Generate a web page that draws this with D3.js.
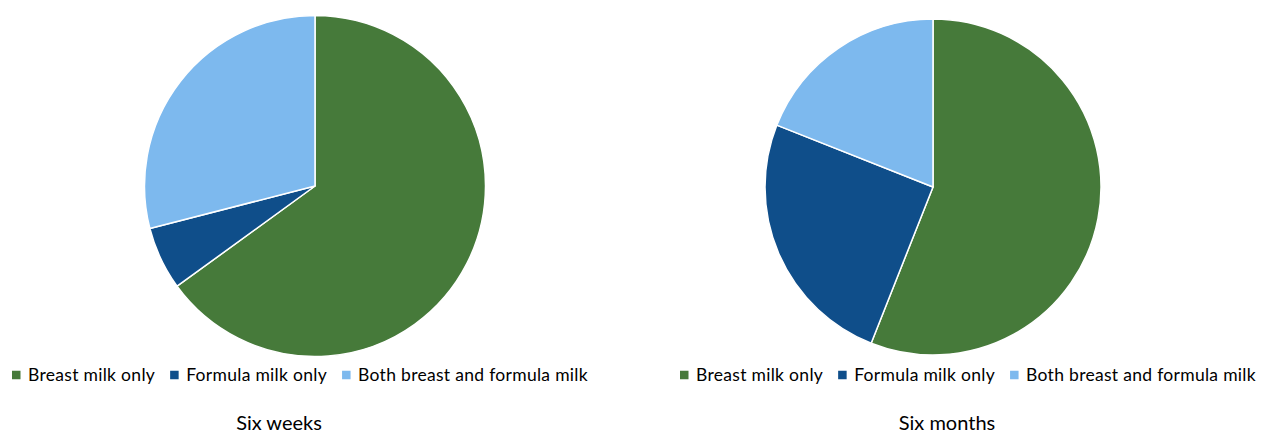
<!DOCTYPE html>
<html>
<head>
<meta charset="utf-8">
<script src="https://cdn.jsdelivr.net/npm/d3@7"></script>
<style>
  html, body { margin: 0; padding: 0; background: #fff; }
  svg { display: block; }
  text { font-family: Lato, "Open Sans", sans-serif; fill: #000; }
</style>
</head>
<body>
<svg id="chart" width="1261" height="433"></svg>
<script>
// Feeding type shares (%) at each age
const categories = ["Breast milk only", "Formula milk only", "Both breast and formula milk"];
const sixWeeks = [65, 6, 29];
const sixMonths = [56, 25, 19];
const panelTitles = ["Six weeks", "Six months"];
const colors = ["#467A3A", "#0F4E8A", "#7DB9EE"];

const svg = d3.select("#chart");
const color = d3.scaleOrdinal().domain(categories).range(colors);

const panels = [
  { title: panelTitles[0], values: sixWeeks, cx: 315, cy: 186, r: 170.5, legendX: 12, titleX: 279 },
  { title: panelTitles[1], values: sixMonths, cx: 933, cy: 187, r: 168, legendX: 680, titleX: 947 }
];

const pie = d3.pie().sort(null).value(d => d.value);

panels.forEach(p => {
  const data = categories.map((c, i) => ({ name: c, value: p.values[i] }));
  const arc = d3.arc().innerRadius(0).outerRadius(p.r);
  const g = svg.append("g").attr("transform", `translate(${p.cx},${p.cy})`);
  g.selectAll("path")
    .data(pie(data))
    .join("path")
    .attr("d", arc)
    .attr("fill", d => color(d.data.name))
    .attr("stroke", "#fff")
    .attr("stroke-width", 1.5)
    .attr("stroke-linejoin", "round");

  // Legend: square swatch followed by label, items laid out in a row
  const legend = svg.append("g").attr("transform", `translate(${p.legendX},375)`);
  let x = 0;
  categories.forEach(c => {
    const item = legend.append("g").attr("transform", `translate(${x},0)`);
    item.append("rect")
      .attr("x", 0).attr("y", -4.25)
      .attr("width", 8.5).attr("height", 8.5)
      .attr("fill", color(c));
    const t = item.append("text")
      .attr("x", 16).attr("y", 5.5)
      .style("font-size", "17.5px")
      .style("letter-spacing", "0.3px")
      .text(c);
    x += 16 + t.node().getComputedTextLength() + 15;
  });

  svg.append("text")
    .attr("x", p.titleX).attr("y", 430)
    .attr("text-anchor", "middle")
    .style("font-size", "20px")
    .text(p.title);
});
</script>
</body>
</html>
